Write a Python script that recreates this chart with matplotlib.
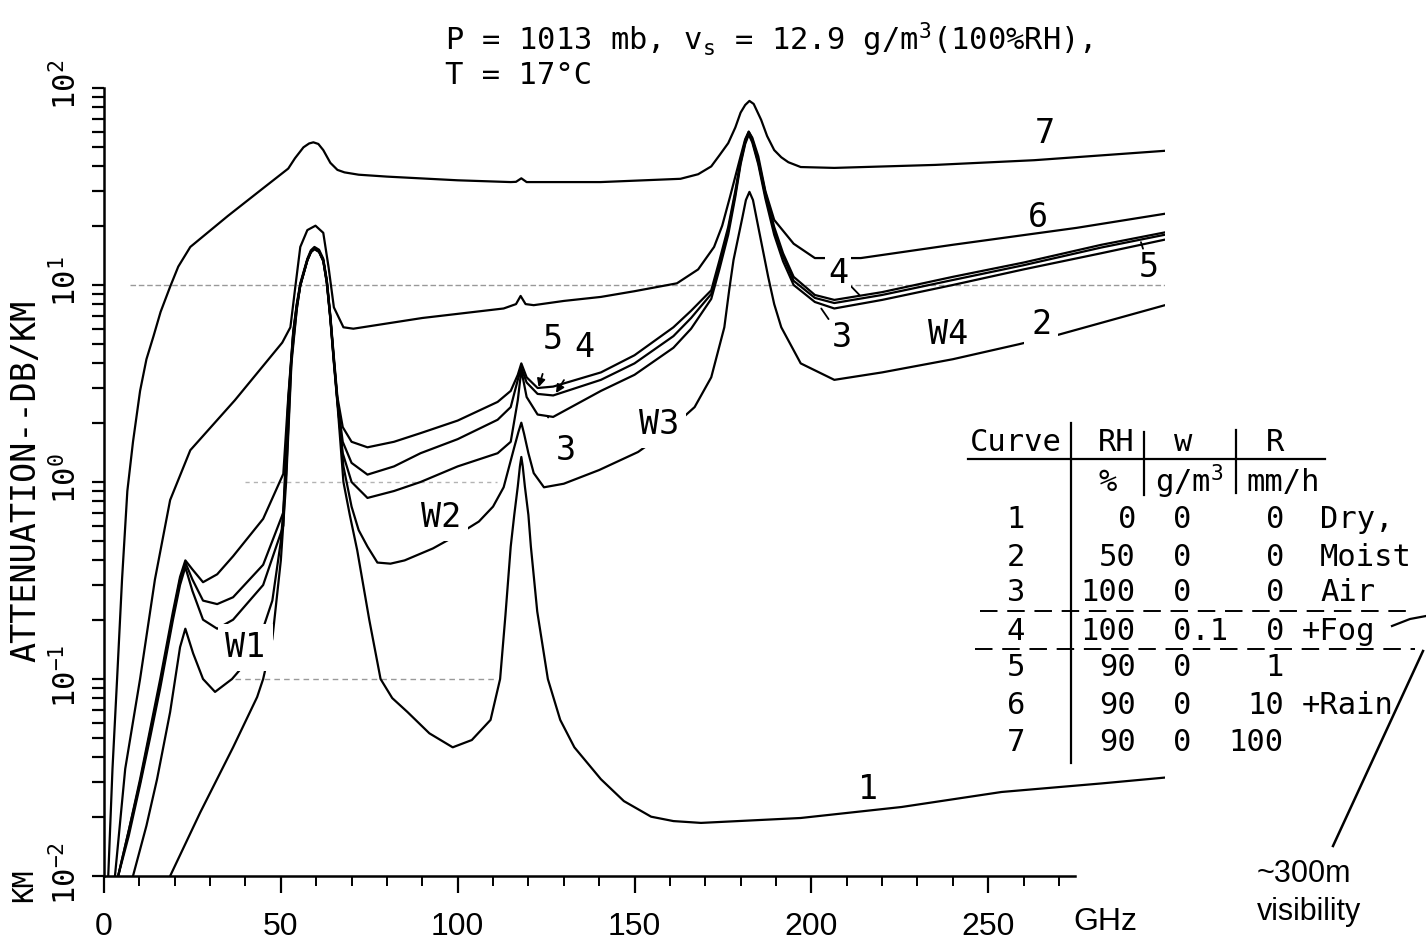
import matplotlib
matplotlib.use("Agg")
import matplotlib.pyplot as plt
from matplotlib.lines import Line2D
from matplotlib.ticker import MultipleLocator, LogLocator, NullFormatter

# frequency (GHz) and attenuation (dB/km)
f1 = [18.7, 27.2, 36.5, 43.3, 45, 47.6, 50, 51.5, 53, 54.5, 55.5, 57.5, 58.5, 59.5, 60.8, 62, 63, 64, 65, 66,
      67.7, 69.5, 71.6, 75, 78.2, 81.5, 85.8, 92, 98.6, 104, 109.3, 112, 113.5, 115, 116, 117, 117.6, 118, 118.4, 119,
      120, 120.7, 122.5, 125.5, 129, 133, 140.5, 147, 154.7, 161, 168.8, 197, 225.5, 253.8, 282, 300]
a1 = [0.01, 0.021, 0.045, 0.081, 0.1, 0.16, 0.4, 1.0, 4.0, 7.5, 10, 13.4, 14.7, 15.2, 14.7, 13.2, 10.2, 6.7, 4.0, 2.5,
      1.0, 0.68, 0.45, 0.2, 0.1, 0.08, 0.068, 0.053, 0.045, 0.049, 0.062, 0.1, 0.21, 0.47, 0.68, 0.95, 1.2, 1.34, 1.2, 0.95,
      0.68, 0.47, 0.22, 0.1, 0.062, 0.045, 0.031, 0.024, 0.02, 0.019, 0.0186, 0.0197, 0.0224, 0.0267, 0.0295, 0.0316]

f2 = [8.2, 12, 15, 18.7, 21.5, 23, 25.2, 28, 31.4, 36.2, 40, 44, 47.6, 50, 51.5, 53, 54.5, 55.5, 57.5, 58.5,
      59.5, 60.8, 62, 63, 64, 65, 66, 67.7, 70, 72, 74.5, 77.3, 81, 85, 93, 100, 106, 110, 113, 116,
      117.2, 118, 118.8, 120, 121.5, 124.4, 130, 140, 151, 160, 167, 171.7, 175.4, 176.8, 178, 180.5, 181.5, 182.5, 183.5, 185,
      187.8, 189.5, 191.5, 197, 206.5, 220, 240, 258.6, 270, 300]
a2 = [0.01, 0.018, 0.031, 0.068, 0.145, 0.18, 0.135, 0.1, 0.086, 0.1, 0.12, 0.16, 0.25, 0.5, 1.1, 4.2, 7.6, 10, 13.4, 14.7,
      15.3, 14.8, 13.3, 10.3, 6.8, 4.1, 2.6, 1.2, 0.75, 0.57, 0.47, 0.39, 0.385, 0.4, 0.46, 0.54, 0.63, 0.75, 0.94, 1.5,
      1.8, 2.0, 1.75, 1.4, 1.11, 0.94, 0.98, 1.15, 1.42, 1.85, 2.4, 3.4, 6.1, 9.5, 13.4, 22, 27, 29.7, 27, 19.7,
      11, 8, 6.1, 4.0, 3.3, 3.6, 4.2, 5.0, 5.6, 7.9]

# curves 3, 4, 5 share one frequency list
fb = [4, 7, 10.2, 13, 15.9, 19.5, 21.5, 23, 25, 28, 32, 36.5, 45, 50.7, 52.1, 53.5, 54.5, 55.5, 57.5, 58.5,
      59.5, 60.8, 62, 63, 64, 65, 66, 67.5, 70, 74.5, 82, 89.5, 100, 111.3, 115, 117, 118, 119.5, 122.6, 127,
      140.5, 150, 161, 166, 171.7, 174, 176.5, 178.5, 180, 181.3, 182.3, 183.3, 185, 187, 189.5, 192, 195, 201, 206.5, 220,
      240, 260, 282, 300]
a3 = [0.01, 0.016, 0.029, 0.05, 0.09, 0.2, 0.3, 0.37, 0.28, 0.2, 0.18, 0.2, 0.3, 0.6, 2.5, 5.6, 7.8, 9.9, 13.3, 14.7,
      15.3, 14.8, 13.3, 10.4, 6.8, 4.1, 2.55, 1.4, 1.0, 0.83, 0.9, 1.0, 1.2, 1.4, 1.6, 2.6, 3.7, 2.7, 2.2, 2.14,
      2.9, 3.5, 4.8, 6.0, 8.5, 12, 18, 28, 41, 52, 58, 53, 41, 27.5, 18, 13.2, 10, 8.2, 7.6, 8.4,
      10, 12, 14.5, 17]
a4 = [0.01, 0.017, 0.03, 0.053, 0.095, 0.21, 0.32, 0.39, 0.32, 0.25, 0.24, 0.26, 0.38, 0.7, 2.6, 5.7, 7.9, 10, 13.4, 14.8,
      15.4, 14.9, 13.4, 10.5, 6.9, 4.2, 2.6, 1.6, 1.25, 1.09, 1.2, 1.4, 1.65, 2.07, 2.4, 3.3, 3.8, 3.2, 2.8, 2.75,
      3.3, 4.0, 5.5, 6.8, 9.0, 12.8, 19, 29, 42, 53, 59, 54, 42, 28.5, 19, 14, 10.5, 8.6, 8.1, 8.9,
      10.6, 12.6, 15.5, 18]
a5 = [0.01, 0.017, 0.031, 0.055, 0.1, 0.22, 0.33, 0.4, 0.36, 0.31, 0.34, 0.42, 0.65, 1.1, 2.7, 5.8, 8.0, 10.2, 13.6, 15.0,
      15.6, 15.1, 13.6, 10.6, 7.0, 4.3, 2.7, 1.9, 1.6, 1.5, 1.6, 1.77, 2.05, 2.55, 2.9, 3.5, 4.0, 3.4, 3.0, 3.05,
      3.6, 4.4, 6.1, 7.4, 9.4, 13.3, 19.7, 30, 43, 54, 60, 55, 43, 29.5, 19.7, 14.5, 11, 8.9, 8.4, 9.2,
      11, 13, 16, 18.5]

f6 = [3.1, 6, 10.2, 14.4, 18.7, 24.4, 37, 50.4, 52.7, 54.1, 55.5, 57.5, 59.8, 62, 63.5, 65, 67.7, 70.5, 90, 113,
      116.5, 117.8, 119.2, 121.5, 130, 140.5, 150, 162, 168, 172.5, 174.8, 177, 180, 181.3, 182.3, 183.3, 185, 187, 189.5, 195,
      201, 214, 240, 275, 300]
a6 = [0.01, 0.035, 0.1, 0.32, 0.81, 1.45, 2.6, 5.1, 6.1, 9.8, 15.6, 19, 20, 18.4, 12.3, 7.7, 6.1, 6.0, 6.8, 7.6,
      8.0, 8.8, 8.0, 7.9, 8.3, 8.7, 9.3, 10.2, 12, 15.6, 20, 28, 45, 55, 60, 56, 45, 30, 21.4, 16.2,
      13.7, 13.7, 16, 19.5, 23]

f7 = [1.2, 2.4, 3.7, 5.1, 6.6, 8.2, 10.2, 12, 14, 16, 18.7, 21, 24.4, 35, 45, 52.1, 54, 56.4, 58, 59.2,
      60.6, 62, 64, 66, 68, 72, 80, 100, 115, 116.5, 118, 119.5, 140.4, 163, 168, 171.7, 174, 176.5, 178.5, 180,
      181.3, 182.5, 183.7, 185.8, 187.5, 189.5, 191.5, 193.5, 197, 206.5, 235, 263, 300]
a7 = [0.01, 0.035, 0.1, 0.32, 0.9, 1.6, 2.9, 4.2, 5.5, 7.3, 9.8, 12.4, 15.6, 22.4, 31, 39, 44, 50, 52.3, 53,
      52, 48.4, 41.7, 38.4, 37.3, 36.3, 35.5, 34, 33.3, 33.4, 34.8, 33.3, 33.3, 34.6, 36.5, 40, 45.5, 52.5, 63, 75,
      82, 86, 83, 69, 57, 48.4, 44.5, 42, 39.7, 39.3, 40.7, 43, 48]

# table on the right
curve_ids = ['1', '2', '3', '4', '5', '6', '7']
rh_vals = ['0', '50', '100', '100', '90', '90', '90']
w_vals = ['0', '0', '0', '0.1', '0', '0', '0']
r_vals = ['0', '0', '0', '0', '1', '10', '100']
notes = ['Dry,', 'Moist', 'Air', '+Fog', '', '+Rain', '']

W, H = 1426, 947
MONO = 'DejaVu Sans Mono'
SANS = 'Liberation Sans'


def fx(px):
    return px / W


def fy(py):
    return 1 - py / H


fig = plt.figure(figsize=(W / 100, H / 100), dpi=100)
ax = fig.add_axes([fx(104), fy(876), fx(1165) - fx(104), fy(88) - fy(876)])
ax.set_yscale('log')
ax.set_xlim(0, 300)
ax.set_ylim(1e-2, 1e2)

for f, a in [(f1, a1), (f2, a2), (fb, a3), (fb, a4), (fb, a5), (f6, a6), (f7, a7)]:
    ax.plot(f, a, color='black', lw=1.6, solid_joinstyle='round', solid_capstyle='round', zorder=3)

# faint leftover grid lines of the scan
ax.hlines(10, 7.4, 300, colors='0.6', lw=1.0, linestyles=(0, (4, 2)), zorder=1)
ax.hlines(1, 40, 111, colors='0.7', lw=1.0, linestyles=(0, (3, 3)), zorder=1)
ax.hlines(0.1, 37, 111, colors='0.6', lw=1.0, linestyles=(0, (4, 3)), zorder=1)

for s in ['top', 'right']:
    ax.spines[s].set_visible(False)
ax.spines['left'].set_linewidth(1.8)
ax.spines['bottom'].set_linewidth(1.8)
ax.spines['bottom'].set_bounds(0, 274.5)

ax.xaxis.set_major_locator(MultipleLocator(50))
ax.set_xticks(range(0, 271, 10), minor=True)
ax.set_xticks(range(0, 251, 50))
ax.yaxis.set_major_locator(LogLocator(base=10, numticks=10))
ax.yaxis.set_minor_locator(LogLocator(base=10, subs=range(2, 10), numticks=10))
ax.yaxis.set_minor_formatter(NullFormatter())
ax.tick_params(axis='x', which='major', direction='out', length=12, width=1.6, pad=14, labelsize=23)
ax.tick_params(axis='x', which='minor', direction='out', length=7, width=1.4)
ax.tick_params(axis='y', which='both', direction='out', length=9, width=1.6, labelleft=False)
for lab in ax.get_xticklabels():
    lab.set_family(SANS)

for e in range(-2, 3):
    ax.annotate(r'10$^{\mathregular{%d}}$' % e, xy=(0, 10.0 ** e), xycoords=('axes fraction', 'data'),
                xytext=(-27, 2), textcoords='offset points', rotation=90, ha='center', va='center',
                fontsize=22, family=MONO)

fig.text(fx(26), fy(481), 'ATTENUATION--DB/KM', rotation=90, ha='center', va='center', fontsize=24, family=MONO)
fig.text(fx(24), fy(885), 'KM', rotation=90, ha='center', va='center', fontsize=20, family=MONO)
fig.text(fx(1105), fy(922), 'GHz', ha='center', va='center', fontsize=23, family=SANS)

fig.text(fx(445), fy(40), r'P = 1013 mb, v$_\mathregular{s}$ = 12.9 g/m$^\mathregular{3}$(100%RH),',
         ha='left', va='center', fontsize=22, family=MONO)
fig.text(fx(445), fy(75), 'T = 17°C', ha='left', va='center', fontsize=22, family=MONO)

# curve labels
lab_kw = dict(fontsize=24, family=MONO, ha='center', va='center', zorder=5)
gap_box = dict(facecolor='white', edgecolor='none', pad=5)
ax.text(266, 59, '7', **lab_kw)
ax.text(264, 21.9, '6', **lab_kw)
ax.text(216, 0.0274, '1', **lab_kw)
ax.text(238.8, 5.6, 'W4', **lab_kw)
ax.text(265, 6.3, '2', bbox=gap_box, **lab_kw)
ax.text(157, 1.95, 'W3', bbox=gap_box, **lab_kw)
ax.text(95.2, 0.66, 'W2', bbox=gap_box, **lab_kw)
ax.text(40, 0.145, 'W1', bbox=gap_box, **lab_kw)

arrow_kw = dict(arrowstyle='-|>', mutation_scale=12, lw=1.3, color='black', shrinkA=11, shrinkB=0)
line_kw = dict(arrowstyle='-', lw=1.3, color='black', shrinkA=11, shrinkB=0)
ax.annotate('5', xy=(122.9, 3.03), xytext=(126.9, 5.26), arrowprops=arrow_kw, **lab_kw)
ax.annotate('4', xy=(127.8, 2.83), xytext=(135.7, 4.8), arrowprops=arrow_kw, **lab_kw)
ax.annotate('3', xy=(125.5, 2.14), xytext=(130.6, 1.45), arrowprops=line_kw, **lab_kw)
ax.annotate('4', xy=(213.6, 8.9), xytext=(207.6, 11.5), arrowprops=line_kw,
            bbox=dict(facecolor='white', edgecolor='none', pad=2), **lab_kw)
ax.annotate('3', xy=(202.8, 7.6), xytext=(208.5, 5.4), arrowprops=line_kw, **lab_kw)
ax.annotate('5', xy=(293.2, 16.5), xytext=(295.5, 12.2), arrowprops=line_kw, **lab_kw)

# table
tkw = dict(fontsize=22, family=MONO, va='center')
fig.text(fx(970), fy(442), 'Curve', ha='left', **tkw)
fig.text(fx(1135), fy(442), 'RH', ha='right', **tkw)
fig.text(fx(1183), fy(442), 'w', ha='center', **tkw)
fig.text(fx(1275), fy(442), 'R', ha='center', **tkw)
fig.text(fx(1108), fy(482), '%', ha='center', **tkw)
fig.text(fx(1155), fy(482), r'g/m$^\mathregular{3}$', ha='left', **tkw)
fig.text(fx(1246), fy(482), 'mm/h', ha='left', **tkw)

row_y = [520, 557, 592, 631, 667, 705, 742]
for i, y in enumerate(row_y):
    fig.text(fx(1016), fy(y), curve_ids[i], ha='center', **tkw)
    fig.text(fx(1136), fy(y), rh_vals[i], ha='right', **tkw)
    fig.text(fx(1173), fy(y), w_vals[i], ha='left', **tkw)
    fig.text(fx(1284), fy(y), r_vals[i], ha='right', **tkw)
    if notes[i]:
        x0 = 1302 if notes[i].startswith('+') else 1320
        fig.text(fx(x0), fy(y), notes[i], ha='left', **tkw)


def fig_line(xs, ys, **kw):
    fig.add_artist(Line2D([fx(v) for v in xs], [fy(v) for v in ys], transform=fig.transFigure,
                          color='black', **kw))


fig_line([968, 1325], [459, 459], lw=1.6)
fig_line([1071, 1071], [423, 763], lw=1.6)
fig_line([1144, 1144], [432, 495], lw=1.6)
fig_line([1236, 1236], [430, 493], lw=1.6)
fig_line([980, 1407], [611, 611], lw=1.4, ls=(0, (9, 5)))
fig_line([975, 1415], [649, 649], lw=1.4, ls=(0, (9, 5)))

# fog visibility note
fig_line([1392, 1410, 1426], [626, 619, 616], lw=1.6)
fig_line([1423, 1333], [651, 846], lw=1.8)
fig.text(fx(1257), fy(874), '~300m', ha='left', va='center', fontsize=22, family=SANS)
fig.text(fx(1257), fy(912), 'visibility', ha='left', va='center', fontsize=22, family=SANS)

fig.savefig('out.png', dpi=100, facecolor='white')
